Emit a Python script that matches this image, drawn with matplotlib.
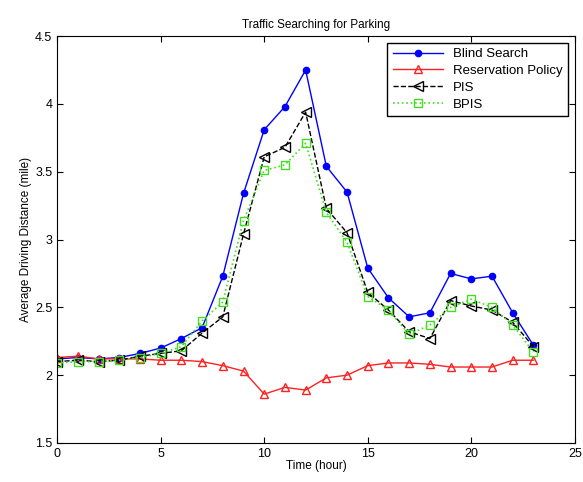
import matplotlib.pyplot as plt

plt.rcParams["font.family"] = ["Liberation Sans", "DejaVu Sans"]

hours = list(range(24))

blind_search = [2.12, 2.13, 2.12, 2.13, 2.16, 2.20, 2.27, 2.35, 2.73, 3.34, 3.81, 3.98,
                4.25, 3.54, 3.35, 2.79, 2.57, 2.43, 2.46, 2.75, 2.71, 2.73, 2.46, 2.22]
reservation = [2.13, 2.14, 2.12, 2.12, 2.12, 2.11, 2.11, 2.10, 2.07, 2.03, 1.86, 1.91,
               1.89, 1.98, 2.00, 2.07, 2.09, 2.09, 2.08, 2.06, 2.06, 2.06, 2.11, 2.11]
pis = [2.10, 2.11, 2.10, 2.11, 2.14, 2.16, 2.18, 2.31, 2.43, 3.04, 3.61, 3.68,
       3.94, 3.23, 3.05, 2.61, 2.48, 2.32, 2.27, 2.55, 2.51, 2.48, 2.39, 2.21]
bpis = [2.09, 2.10, 2.10, 2.11, 2.13, 2.16, 2.21, 2.40, 2.54, 3.14, 3.51, 3.55,
        3.71, 3.20, 2.98, 2.58, 2.48, 2.30, 2.37, 2.50, 2.56, 2.50, 2.37, 2.17]

fig = plt.figure(figsize=(5.83, 4.82), dpi=100)
ax = fig.add_axes([0.098, 0.081, 0.888, 0.844])

ax.plot(hours, blind_search, "-", color="#0000ff", marker="o", markersize=4.5,
        markerfacecolor="#0000ff", linewidth=1, label="Blind Search")
ax.plot(hours, reservation, "-", color="#ff2020", marker="^", markersize=6,
        markerfacecolor="none", linewidth=1, label="Reservation Policy")
ax.plot(hours, pis, "--", color="black", marker="<", markersize=7,
        markerfacecolor="none", linewidth=1, label="PIS")
ax.plot(hours, bpis, ":", color="#44dd22", marker="s", markersize=6,
        markerfacecolor="none", linewidth=1.2, label="BPIS")

ax.set_xlim(0, 25)
ax.set_ylim(1.5, 4.5)
ax.set_xticks([0, 5, 10, 15, 20, 25])
ax.set_yticks([1.5, 2, 2.5, 3, 3.5, 4, 4.5])
ax.set_yticklabels(["1.5", "2", "2.5", "3", "3.5", "4", "4.5"])
ax.tick_params(direction="in", top=True, right=True, labelsize=9, length=4)

ax.set_title("Traffic Searching for Parking", fontsize=8.5)
ax.set_xlabel("Time (hour)", fontsize=8.5, labelpad=0)
ax.set_ylabel("Average Driving Distance (mile)", fontsize=8.5, labelpad=2)

ax.legend(loc="upper right", fontsize=9.5, frameon=True, fancybox=False,
          edgecolor="black", framealpha=1, handlelength=3.8,
          borderaxespad=0.5, labelspacing=0.35, borderpad=0.4)

fig.savefig("out.png", dpi=100)
